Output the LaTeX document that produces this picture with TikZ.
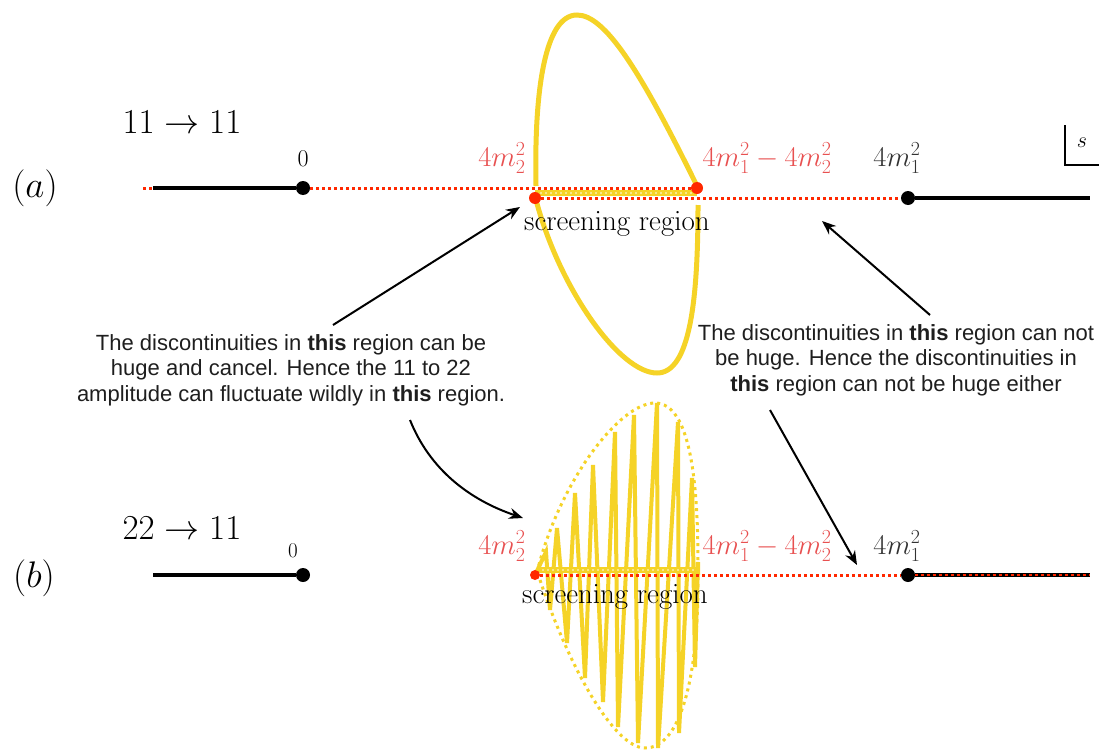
\documentclass[tikz,border=0pt]{standalone}
\usepackage{fix-cm}
\usepackage{fontspec}
\setsansfont{Liberation Sans}
\usetikzlibrary{arrows.meta}
\definecolor{yel}{RGB}{245,211,39}
\definecolor{rdot}{RGB}{255,40,0}
\definecolor{rlab}{RGB}{232,80,80}
\definecolor{glab}{RGB}{50,50,50}
\definecolor{txt}{RGB}{30,30,30}
\newcommand{\cmrm}{\fontencoding{OT1}\fontfamily{cmr}\selectfont}
\begin{document}
\begin{tikzpicture}[x=1pt,y=-1pt,
  axis/.style={line width=4.5pt},
  reddots/.style={rdot, line width=3pt, dash pattern=on 3pt off 3pt},
  bdot/.style={circle, fill=black, inner sep=0pt, minimum size=14pt},
  rd/.style={circle, fill=rdot, inner sep=0pt, minimum size=12pt},
  yloop/.style={yel, line width=5pt},
  yenv/.style={yel, line width=3pt, dash pattern=on 3pt off 4pt},
  yzig/.style={yel, line width=4pt, line join=miter},
  band/.style={yel, line width=6pt},
  note/.style={font=\fontsize{22}{25.5}\selectfont\sffamily, text=txt, align=center},
  arr/.style={-{Stealth[length=14pt,width=11pt]}, line width=2pt},
  big/.style={font=\fontsize{37}{40}\selectfont},
  proc/.style={font=\fontsize{35}{40}\selectfont},
  lab/.style={font=\fontsize{28.5}{30}\selectfont},
  zero/.style={font=\fontsize{24}{26}\selectfont, text=black},
  scr/.style={font=\fontsize{29}{31}\cmrm}
]
\useasboundingbox (0,0) rectangle (1099,749);

% ---------- (a) ----------
\node[big] (la) at (35,188) {$(a)$};
\node[proc] (pa) at (182,122) {$11\to 11$};

% yellow loop
\draw[yloop] (536,186) .. controls (534,90) and (545,15) .. (577,15) .. controls (605,15) and (640,70) .. (697,186);
\draw[yloop] (698,205) .. controls (698,300) and (690,373) .. (657,373) .. controls (620,373) and (560,290) .. (536,200);
\draw[band] (535,193) -- (697,193);
\draw[white, opacity=0.45, line width=1.5pt, dash pattern=on 2pt off 3pt] (540,193) -- (692,193);

\coordinate (a0l) at (143,188);
\coordinate (a0s) at (153,188);
\node[bdot] (a0) at (303,188) {};
\node[rd] (a2) at (535,198) {};
\node[rd] (a12) at (697,188) {};
\node[bdot] (a1) at (908,198) {};
\coordinate (aend) at (1090,198);

\draw[reddots] (a0l) -- (a0s);
\draw[axis] (a0s) -- (a0);
\draw[reddots] (a0) -- (a12);
\draw[reddots] (a2) -- (a1);
\draw[axis] (a1) -- (aend);

\node[zero] (za) at (303,159) {$0$};
\node[lab, text=rlab, anchor=east] (ta2) at (529,158) {$4m_2^2$};
\node[lab, text=rlab, anchor=west] (ta12) at (699,158) {$4m_1^2-4m_2^2$};
\node[lab, text=glab] (ta1) at (897,158) {$4m_1^2$};
\node[scr] (sra) at (617,224) {screening region};

% s box
\node[font=\fontsize{22}{24}\selectfont] (sl) at (1082,143) {$s$};
\coordinate (s1) at (1065,125);
\coordinate (s2) at (1065,165);
\coordinate (s3) at (1099,165);
\draw[line width=1.5pt] (s1) -- (s2) -- (s3);

% ---------- (b) ----------
\node[big] (lb) at (34,578) {$(b)$};
\node[proc] (pb) at (182,528) {$22\to 11$};

% envelope
\draw[yenv] (537,572) .. controls (560,480) and (620,403) .. (655,403) .. controls (690,403) and (698,480) .. (698,565);
\draw[yenv] (540,580) .. controls (570,670) and (615,748) .. (645,748) .. controls (680,748) and (698,680) .. (698,580);
% zigzag
\draw[yzig] (535,575) -- (546,552) -- (550,610) -- (557,528) -- (567,643) -- (575,493) -- (585,678) -- (593,465) -- (603,702) -- (615,432) -- (618,727) -- (634,415) -- (638,743) -- (657,403) -- (658,748) -- (678,422) -- (679,733) -- (692,478) -- (695,667) -- (698,562) -- (698,575);
\draw[band] (537,570) -- (700,570);
\draw[white, opacity=0.45, line width=1.5pt, dash pattern=on 2pt off 3pt] (542,570) -- (695,570);

\coordinate (b0s) at (153,575);
\node[bdot] (b0) at (303,575) {};
\node[rd, minimum size=10pt] (b2) at (535,575) {};
\node[bdot] (b1) at (908,575) {};
\coordinate (bend) at (1090,575);
\draw[axis] (b0s) -- (b0);
\draw[reddots] (b2) -- (b1);
\draw[axis] (b1) -- (bend);
\draw[reddots, line width=2.5pt] (b1) -- (bend);

\node[zero, font=\fontsize{21}{23}\selectfont] (zb) at (293,551) {$0$};
\node[lab, text=rlab, anchor=east] (tb2) at (529,546) {$4m_2^2$};
\node[lab, text=rlab, anchor=west] (tb12) at (699,546) {$4m_1^2-4m_2^2$};
\node[lab, text=glab] (tb1) at (897,546) {$4m_1^2$};
\node[scr] (srb) at (615,597) {screening region};

% ---------- notes ----------
\node[note] (nl) at (291,370) {The discontinuities in \textbf{this} region can be\\huge and cancel. Hence the 11 to 22\\amplitude can fluctuate wildly in \textbf{this} region.};
\node[note] (nr) at (896,360) {The discontinuities in \textbf{this} region can not\\be huge. Hence the discontinuities in\\\textbf{this} region can not be huge either};

\coordinate (e1s) at (333,325);
\coordinate (e1e) at (520,207);
\coordinate (e2s) at (410,420);
\coordinate (e2e) at (523,518);
\coordinate (e3s) at (930,315);
\coordinate (e3e) at (822,221);
\coordinate (e4s) at (770,410);
\coordinate (e4e) at (857,565);
\draw[arr] (e1s) -- (e1e);
\draw[arr] (e2s) .. controls (430,470) and (470,500) .. (e2e);
\draw[arr] (e3s) -- (e3e);
\draw[arr] (e4s) -- (e4e);
\end{tikzpicture}
\end{document}
